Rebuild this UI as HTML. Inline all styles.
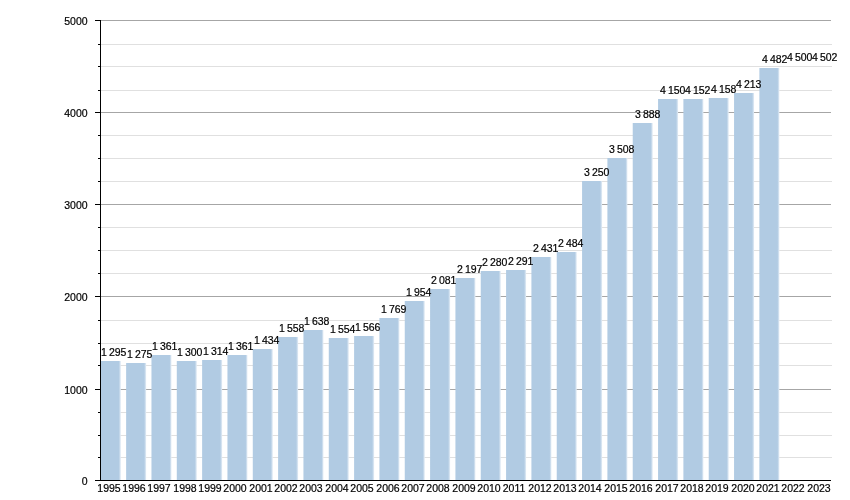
<!DOCTYPE html>
<html><head><meta charset="utf-8"><style>
html,body{margin:0;padding:0;background:#fff;}
body{width:850px;height:500px;position:relative;overflow:hidden;font-family:"Liberation Sans",sans-serif;}
.l{position:absolute;will-change:transform;-webkit-text-stroke:0.2px #000;white-space:nowrap;color:#000;line-height:1;font-size:10.5px;}

.y{width:40px;text-align:center;top:483.0px;}
.v{left:0;width:87.6px;text-align:right;}
svg{position:absolute;left:0;top:0;}
</style></head><body>

<svg width="850" height="500" viewBox="0 0 850 500" shape-rendering="crispEdges">
<rect x="101" y="20" width="730" height="1" fill="#a6a6a6"/>
<rect x="101" y="44" width="731" height="1" fill="#e0e0e0"/>
<rect x="101" y="66" width="731" height="1" fill="#e0e0e0"/>
<rect x="101" y="90" width="731" height="1" fill="#e0e0e0"/>
<rect x="101" y="112" width="730" height="1" fill="#a6a6a6"/>
<rect x="101" y="135" width="731" height="1" fill="#e0e0e0"/>
<rect x="101" y="158" width="731" height="1" fill="#e0e0e0"/>
<rect x="101" y="181" width="731" height="1" fill="#e0e0e0"/>
<rect x="101" y="204" width="730" height="1" fill="#a6a6a6"/>
<rect x="101" y="227" width="731" height="1" fill="#e0e0e0"/>
<rect x="101" y="250" width="731" height="1" fill="#e0e0e0"/>
<rect x="101" y="273" width="731" height="1" fill="#e0e0e0"/>
<rect x="101" y="296" width="730" height="1" fill="#a6a6a6"/>
<rect x="101" y="320" width="731" height="1" fill="#e0e0e0"/>
<rect x="101" y="343" width="731" height="1" fill="#e0e0e0"/>
<rect x="101" y="365" width="731" height="1" fill="#e0e0e0"/>
<rect x="101" y="389" width="730" height="1" fill="#a6a6a6"/>
<rect x="101" y="412" width="731" height="1" fill="#e0e0e0"/>
<rect x="101" y="435" width="731" height="1" fill="#e0e0e0"/>
<rect x="101" y="457" width="731" height="1" fill="#e0e0e0"/>
</svg>
<svg width="850" height="500" viewBox="0 0 850 500" shape-rendering="crispEdges"><defs><linearGradient id="bg" x1="0" y1="0" x2="1" y2="0"><stop offset="0" stop-color="#b1cbe3"/><stop offset="0.9" stop-color="#b1cbe3"/><stop offset="1" stop-color="#e4edf6"/></linearGradient></defs>
<rect x="100.80" y="361.00" width="20.0" height="119.00" fill="url(#bg)" shape-rendering="geometricPrecision"/>
<rect x="126.13" y="363.00" width="20.0" height="117.00" fill="url(#bg)" shape-rendering="geometricPrecision"/>
<rect x="151.46" y="355.00" width="20.0" height="125.00" fill="url(#bg)" shape-rendering="geometricPrecision"/>
<rect x="176.79" y="361.00" width="20.0" height="119.00" fill="url(#bg)" shape-rendering="geometricPrecision"/>
<rect x="202.12" y="360.00" width="20.0" height="120.00" fill="url(#bg)" shape-rendering="geometricPrecision"/>
<rect x="227.45" y="355.00" width="20.0" height="125.00" fill="url(#bg)" shape-rendering="geometricPrecision"/>
<rect x="252.78" y="349.00" width="20.0" height="131.00" fill="url(#bg)" shape-rendering="geometricPrecision"/>
<rect x="278.11" y="337.00" width="20.0" height="143.00" fill="url(#bg)" shape-rendering="geometricPrecision"/>
<rect x="303.44" y="330.00" width="20.0" height="150.00" fill="url(#bg)" shape-rendering="geometricPrecision"/>
<rect x="328.77" y="338.00" width="20.0" height="142.00" fill="url(#bg)" shape-rendering="geometricPrecision"/>
<rect x="354.10" y="336.00" width="20.0" height="144.00" fill="url(#bg)" shape-rendering="geometricPrecision"/>
<rect x="379.43" y="318.00" width="20.0" height="162.00" fill="url(#bg)" shape-rendering="geometricPrecision"/>
<rect x="404.76" y="301.00" width="20.0" height="179.00" fill="url(#bg)" shape-rendering="geometricPrecision"/>
<rect x="430.09" y="289.00" width="20.0" height="191.00" fill="url(#bg)" shape-rendering="geometricPrecision"/>
<rect x="455.42" y="278.00" width="20.0" height="202.00" fill="url(#bg)" shape-rendering="geometricPrecision"/>
<rect x="480.75" y="271.00" width="20.0" height="209.00" fill="url(#bg)" shape-rendering="geometricPrecision"/>
<rect x="506.08" y="270.00" width="20.0" height="210.00" fill="url(#bg)" shape-rendering="geometricPrecision"/>
<rect x="531.41" y="257.00" width="20.0" height="223.00" fill="url(#bg)" shape-rendering="geometricPrecision"/>
<rect x="556.74" y="252.00" width="20.0" height="228.00" fill="url(#bg)" shape-rendering="geometricPrecision"/>
<rect x="582.07" y="181.00" width="20.0" height="299.00" fill="url(#bg)" shape-rendering="geometricPrecision"/>
<rect x="607.40" y="158.00" width="20.0" height="322.00" fill="url(#bg)" shape-rendering="geometricPrecision"/>
<rect x="632.73" y="123.00" width="20.0" height="357.00" fill="url(#bg)" shape-rendering="geometricPrecision"/>
<rect x="658.06" y="99.00" width="20.0" height="381.00" fill="url(#bg)" shape-rendering="geometricPrecision"/>
<rect x="683.39" y="99.00" width="20.0" height="381.00" fill="url(#bg)" shape-rendering="geometricPrecision"/>
<rect x="708.72" y="98.00" width="20.0" height="382.00" fill="url(#bg)" shape-rendering="geometricPrecision"/>
<rect x="734.05" y="93.00" width="20.0" height="387.00" fill="url(#bg)" shape-rendering="geometricPrecision"/>
<rect x="759.38" y="68.00" width="20.0" height="412.00" fill="url(#bg)" shape-rendering="geometricPrecision"/>
<rect x="100" y="20" width="1" height="461" fill="#000"/>
<rect x="95" y="480" width="736" height="1" fill="#000"/>
<rect x="95" y="20" width="5" height="1" fill="#000"/>
<rect x="98" y="44" width="2" height="1" fill="#000"/>
<rect x="98" y="66" width="2" height="1" fill="#000"/>
<rect x="98" y="90" width="2" height="1" fill="#000"/>
<rect x="95" y="112" width="5" height="1" fill="#000"/>
<rect x="98" y="135" width="2" height="1" fill="#000"/>
<rect x="98" y="158" width="2" height="1" fill="#000"/>
<rect x="98" y="181" width="2" height="1" fill="#000"/>
<rect x="95" y="204" width="5" height="1" fill="#000"/>
<rect x="98" y="227" width="2" height="1" fill="#000"/>
<rect x="98" y="250" width="2" height="1" fill="#000"/>
<rect x="98" y="273" width="2" height="1" fill="#000"/>
<rect x="95" y="296" width="5" height="1" fill="#000"/>
<rect x="98" y="320" width="2" height="1" fill="#000"/>
<rect x="98" y="343" width="2" height="1" fill="#000"/>
<rect x="98" y="365" width="2" height="1" fill="#000"/>
<rect x="95" y="389" width="5" height="1" fill="#000"/>
<rect x="98" y="412" width="2" height="1" fill="#000"/>
<rect x="98" y="435" width="2" height="1" fill="#000"/>
<rect x="98" y="457" width="2" height="1" fill="#000"/>
<rect x="95" y="480" width="5" height="1" fill="#000"/>
</svg>
<div class="l" style="left:101.30px;top:347.00px">1 295</div>
<div class="l" style="left:126.70px;top:349.00px">1 275</div>
<div class="l" style="left:152.09px;top:341.00px">1 361</div>
<div class="l" style="left:177.49px;top:347.00px">1 300</div>
<div class="l" style="left:202.89px;top:346.00px">1 314</div>
<div class="l" style="left:228.28px;top:341.00px">1 361</div>
<div class="l" style="left:253.68px;top:335.00px">1 434</div>
<div class="l" style="left:279.08px;top:323.00px">1 558</div>
<div class="l" style="left:304.48px;top:316.00px">1 638</div>
<div class="l" style="left:329.87px;top:324.00px">1 554</div>
<div class="l" style="left:355.27px;top:322.00px">1 566</div>
<div class="l" style="left:380.67px;top:304.00px">1 769</div>
<div class="l" style="left:406.06px;top:287.00px">1 954</div>
<div class="l" style="left:431.46px;top:275.00px">2 081</div>
<div class="l" style="left:456.86px;top:264.00px">2 197</div>
<div class="l" style="left:482.25px;top:257.00px">2 280</div>
<div class="l" style="left:507.65px;top:256.00px">2 291</div>
<div class="l" style="left:533.05px;top:243.00px">2 431</div>
<div class="l" style="left:558.45px;top:238.00px">2 484</div>
<div class="l" style="left:583.84px;top:167.00px">3 250</div>
<div class="l" style="left:609.24px;top:144.00px">3 508</div>
<div class="l" style="left:634.64px;top:109.00px">3 888</div>
<div class="l" style="left:660.03px;top:85.00px">4 150</div>
<div class="l" style="left:685.43px;top:85.00px">4 152</div>
<div class="l" style="left:710.83px;top:84.00px">4 158</div>
<div class="l" style="left:736.22px;top:79.00px">4 213</div>
<div class="l" style="left:761.62px;top:54.00px">4 482</div>
<div class="l" style="left:787.02px;top:52.00px">4 500</div>
<div class="l" style="left:812.42px;top:52.00px">4 502</div>
<div class="l y" style="left:88.60px">1995</div>
<div class="l y" style="left:113.96px">1996</div>
<div class="l y" style="left:139.32px">1997</div>
<div class="l y" style="left:164.68px">1998</div>
<div class="l y" style="left:190.04px">1999</div>
<div class="l y" style="left:215.40px">2000</div>
<div class="l y" style="left:240.76px">2001</div>
<div class="l y" style="left:266.12px">2002</div>
<div class="l y" style="left:291.48px">2003</div>
<div class="l y" style="left:316.84px">2004</div>
<div class="l y" style="left:342.20px">2005</div>
<div class="l y" style="left:367.56px">2006</div>
<div class="l y" style="left:392.92px">2007</div>
<div class="l y" style="left:418.28px">2008</div>
<div class="l y" style="left:443.64px">2009</div>
<div class="l y" style="left:469.00px">2010</div>
<div class="l y" style="left:494.36px">2011</div>
<div class="l y" style="left:519.72px">2012</div>
<div class="l y" style="left:545.08px">2013</div>
<div class="l y" style="left:570.44px">2014</div>
<div class="l y" style="left:595.80px">2015</div>
<div class="l y" style="left:621.16px">2016</div>
<div class="l y" style="left:646.52px">2017</div>
<div class="l y" style="left:671.88px">2018</div>
<div class="l y" style="left:697.24px">2019</div>
<div class="l y" style="left:722.60px">2020</div>
<div class="l y" style="left:747.96px">2021</div>
<div class="l y" style="left:773.32px">2022</div>
<div class="l y" style="left:798.68px">2023</div>
<div class="l v" style="top:15.72px">5000</div>
<div class="l v" style="top:107.72px">4000</div>
<div class="l v" style="top:199.72px">3000</div>
<div class="l v" style="top:291.73px">2000</div>
<div class="l v" style="top:384.73px">1000</div>
<div class="l v" style="top:475.73px">0</div>
</body></html>
